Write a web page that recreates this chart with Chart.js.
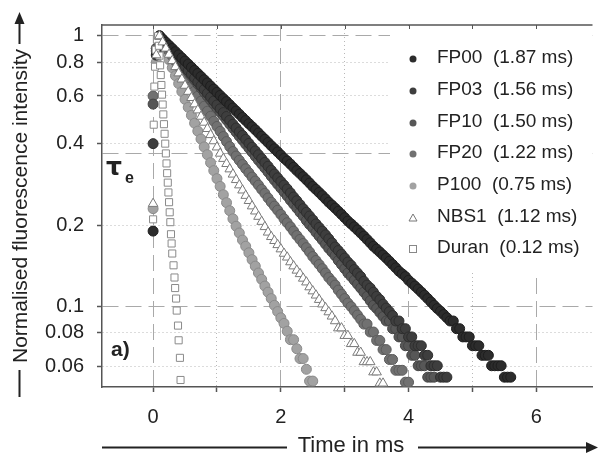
<!DOCTYPE html>
<html>
<head>
<meta charset="utf-8">
<script src="https://cdn.jsdelivr.net/npm/chart.js@4.4.1/dist/chart.umd.min.js"></script>
<style>
  html, body { margin: 0; padding: 0; background: #fff; }
  canvas { display: block; }
</style>
</head>
<body>
<canvas id="decayChart" width="599" height="466"></canvas>
<script>
// time axis (ms), shared by the circle / triangle series
const time = [0, 0.05, 0.1, 0.15, 0.2, 0.25, 0.3, 0.35, 0.4, 0.45,
  0.5, 0.55, 0.6, 0.65, 0.7, 0.75, 0.8, 0.85, 0.9, 0.95,
  1.0, 1.05, 1.1, 1.15, 1.2, 1.25, 1.3, 1.35, 1.4, 1.45,
  1.5, 1.55, 1.6, 1.65, 1.7, 1.75, 1.8, 1.85, 1.9, 1.95,
  2.0, 2.05, 2.1, 2.15, 2.2, 2.25, 2.3, 2.35, 2.4, 2.45,
  2.5, 2.55, 2.6, 2.65, 2.7, 2.75, 2.8, 2.85, 2.9, 2.95,
  3.0, 3.05, 3.1, 3.15, 3.2, 3.25, 3.3, 3.35, 3.4, 3.45,
  3.5, 3.55, 3.6, 3.65, 3.7, 3.75, 3.8, 3.85, 3.9, 3.95,
  4.0, 4.05, 4.1, 4.15, 4.2, 4.25, 4.3, 4.35, 4.4, 4.45,
  4.5, 4.55, 4.6, 4.65, 4.7, 4.75, 4.8, 4.85, 4.9, 4.95,
  5.0, 5.05, 5.1, 5.15, 5.2, 5.25, 5.3, 5.35, 5.4, 5.45,
  5.5, 5.55, 5.6];

const fp00 = [0.19, 0.85,
  1, 0.974, 0.948, 0.923, 0.899, 0.875, 0.852, 0.830, 0.808, 0.787,
  0.766, 0.746, 0.727, 0.708, 0.689, 0.671, 0.653, 0.636, 0.619, 0.603,
  0.587, 0.572, 0.557, 0.542, 0.528, 0.514, 0.500, 0.487, 0.474, 0.462,
  0.450, 0.438, 0.426, 0.415, 0.404, 0.393, 0.383, 0.373, 0.363, 0.353,
  0.345, 0.336, 0.327, 0.318, 0.310, 0.302, 0.294, 0.286, 0.278, 0.271,
  0.264, 0.257, 0.250, 0.243, 0.237, 0.231, 0.225, 0.219, 0.213, 0.207,
  0.202, 0.197, 0.192, 0.187, 0.182, 0.177, 0.172, 0.167, 0.163, 0.159,
  0.155, 0.151, 0.147, 0.143, 0.139, 0.135, 0.132, 0.129, 0.125, 0.122,
  0.119, 0.116, 0.113, 0.110, 0.107, 0.104, 0.101, 0.0983, 0.096, 0.0934,
  0.0909, 0.0884, 0.0884, 0.0828, 0.0828, 0.0772, 0.0772, 0.0772, 0.0716, 0.0716,
  0.0716, 0.066, 0.066, 0.066, 0.0604, 0.0604, 0.0604, 0.0604, 0.0548, 0.0548, 0.0548];
const fp03 = [0.40, 0.88,
  1, 0.968, 0.937, 0.907, 0.878, 0.850, 0.822, 0.796, 0.770, 0.745,
  0.722, 0.699, 0.676, 0.654, 0.634, 0.614, 0.594, 0.575, 0.556, 0.538,
  0.521, 0.504, 0.488, 0.472, 0.457, 0.442, 0.429, 0.415, 0.401, 0.388,
  0.376, 0.364, 0.352, 0.341, 0.330, 0.319, 0.309, 0.299, 0.290, 0.281,
  0.272, 0.263, 0.254, 0.246, 0.238, 0.230, 0.223, 0.216, 0.209, 0.202,
  0.196, 0.190, 0.184, 0.178, 0.172, 0.166, 0.161, 0.156, 0.151, 0.146,
  0.142, 0.137, 0.133, 0.129, 0.124, 0.120, 0.117, 0.113, 0.109, 0.106,
  0.102, 0.0987, 0.0957, 0.0926, 0.0884, 0.0884, 0.0828, 0.0828, 0.0772, 0.0772,
  0.0716, 0.0716, 0.0716, 0.066, 0.066, 0.0604, 0.0604, 0.0604, 0.0548, 0.0548, 0.0548];
const fp10 = [0.56, 0.9,
  1, 0.967, 0.934, 0.903, 0.872, 0.843, 0.815, 0.788, 0.761, 0.736,
  0.711, 0.687, 0.664, 0.642, 0.620, 0.599, 0.579, 0.560, 0.541, 0.523,
  0.506, 0.489, 0.472, 0.456, 0.441, 0.426, 0.412, 0.398, 0.385, 0.372,
  0.359, 0.347, 0.336, 0.325, 0.314, 0.303, 0.293, 0.283, 0.274, 0.265,
  0.256, 0.247, 0.239, 0.231, 0.223, 0.216, 0.208, 0.201, 0.195, 0.188,
  0.182, 0.176, 0.170, 0.164, 0.159, 0.154, 0.148, 0.143, 0.138, 0.133,
  0.129, 0.125, 0.121, 0.117, 0.113, 0.109, 0.105, 0.101, 0.0983, 0.095,
  0.0918, 0.0884, 0.0884, 0.0828, 0.0828, 0.0772, 0.0772, 0.0716, 0.0716, 0.066,
  0.066, 0.0604, 0.0604, 0.0604, 0.0548, 0.0548, 0.0548];
const fp20 = [0.60, 0.9,
  1, 0.958, 0.918, 0.879, 0.843, 0.807, 0.774, 0.741, 0.710, 0.680,
  0.652, 0.625, 0.599, 0.574, 0.550, 0.527, 0.505, 0.484, 0.463, 0.444,
  0.425, 0.407, 0.390, 0.374, 0.360, 0.347, 0.335, 0.323, 0.312, 0.301,
  0.291, 0.281, 0.271, 0.262, 0.252, 0.243, 0.235, 0.227, 0.219, 0.211,
  0.204, 0.197, 0.190, 0.183, 0.177, 0.171, 0.165, 0.159, 0.153, 0.148,
  0.143, 0.138, 0.133, 0.128, 0.124, 0.120, 0.115, 0.111, 0.107, 0.103,
  0.0999, 0.0964, 0.093, 0.0897, 0.0861, 0.0861, 0.0805, 0.0805, 0.0749, 0.0749,
  0.0693, 0.0693, 0.0637, 0.0637, 0.0581, 0.0581, 0.0581, 0.0525, 0.0525];
const p100 = [0.23, 0.8,
  1, 0.935, 0.874, 0.817, 0.763, 0.713, 0.667, 0.623, 0.583, 0.545,
  0.509, 0.476, 0.445, 0.416, 0.389, 0.364, 0.340, 0.318, 0.297, 0.278,
  0.259, 0.242, 0.226, 0.211, 0.198, 0.187, 0.176, 0.167, 0.158, 0.149,
  0.141, 0.133, 0.126, 0.119, 0.113, 0.107, 0.101, 0.0958, 0.0908, 0.0866,
  0.081, 0.0754, 0.0754, 0.0698, 0.0642, 0.0642, 0.0586, 0.053, 0.053];
const nbs1 = [0.24, 0.85,
  1, 0.949, 0.900, 0.854, 0.810, 0.769, 0.729, 0.692, 0.656, 0.623,
  0.591, 0.560, 0.532, 0.504, 0.479, 0.454, 0.431, 0.409, 0.388, 0.368,
  0.352, 0.337, 0.322, 0.308, 0.294, 0.281, 0.269, 0.257, 0.246, 0.235,
  0.225, 0.215, 0.206, 0.197, 0.188, 0.181, 0.175, 0.169, 0.163, 0.157,
  0.152, 0.146, 0.141, 0.136, 0.132, 0.127, 0.123, 0.118, 0.114, 0.110,
  0.106, 0.102, 0.0988, 0.0954, 0.092, 0.0884, 0.0832, 0.0832, 0.078, 0.078,
  0.0728, 0.0728, 0.0676, 0.0676, 0.0624, 0.0624, 0.0624, 0.0572, 0.0572, 0.052,
  0.052];

// Duran glass decays much faster, sampled finer
const duranTime = [0, 0.01, 0.02, 0.03, 0.04, 0.06,
  0.08, 0.09, 0.10, 0.11, 0.12, 0.13, 0.14, 0.15, 0.16, 0.17,
  0.18, 0.19, 0.20, 0.21, 0.22, 0.23, 0.24, 0.25, 0.26, 0.27,
  0.28, 0.29, 0.30, 0.32, 0.335, 0.345, 0.36, 0.37, 0.39, 0.40, 0.42, 0.43];
const duran = [0.21, 0.47, 0.65, 0.77, 0.89, 0.97,
  1, 0.92, 0.846, 0.779, 0.717, 0.659, 0.607, 0.558, 0.513, 0.472,
  0.435, 0.40, 0.368, 0.338, 0.311, 0.287, 0.264, 0.243, 0.223, 0.205,
  0.185, 0.171, 0.157, 0.142, 0.128, 0.117, 0.107, 0.0966, 0.085, 0.075, 0.0646, 0.0535];

const seriesNames = ['FP00', 'FP03', 'FP10', 'FP20', 'P100', 'NBS1', 'Duran'];
const lifetimes = ['1.87', '1.56', '1.50', '1.22', '0.75', '1.12', '0.12'];

const xTicks = [0, 1, 2, 3, 4, 5, 6];
const yTicks = [0.06, 0.08, 0.1, 0.2, 0.368, 0.4, 0.6, 0.8, 1];
const yTickLabels = ['0.06', '0.08', '0.1', '0.2', '', '0.4', '0.6', '0.8', '1'];

const FONT = "'Liberation Sans', Arial, sans-serif";

function pts(xs, ys) {
  return ys.map((v, i) => ({ x: xs[i], y: v }));
}

function circleSet(label, values, fill, border, order) {
  return {
    label: label,
    data: pts(time, values),
    pointStyle: 'circle',
    pointRadius: 5,
    pointBackgroundColor: fill,
    pointBorderColor: border,
    pointBorderWidth: 1,
    showLine: false,
    order: order
  };
}

const datasets = [
  circleSet('FP00', fp00, '#2c2c2c', '#1e1e1e', 2),
  circleSet('FP03', fp03, '#3e3e3e', '#2e2e2e', 3),
  circleSet('FP10', fp10, '#575757', '#444444', 4),
  circleSet('FP20', fp20, '#717171', '#5c5c5c', 5),
  circleSet('P100', p100, '#a2a2a2', '#8a8a8a', 6),
  {
    label: 'NBS1',
    data: pts(time, nbs1),
    pointStyle: 'triangle',
    pointRadius: 5.5,
    pointBackgroundColor: '#ffffff',
    pointBorderColor: '#7a7a7a',
    pointBorderWidth: 1,
    showLine: false,
    order: 0
  },
  {
    label: 'Duran',
    data: pts(duranTime, duran),
    pointStyle: 'rect',
    pointRadius: 5,
    pointBackgroundColor: '#ffffff',
    pointBorderColor: '#8a8a8a',
    pointBorderWidth: 1,
    showLine: false,
    order: 1
  }
];

const legendColors = ['#2c2c2c', '#3e3e3e', '#575757', '#717171', '#a2a2a2'];

// legend box, axis titles, labels inside the plot
const decor = {
  id: 'decor',
  beforeDatasetsDraw(chart) {
    const { ctx, chartArea } = chart;
    ctx.save();
    ctx.fillStyle = '#ffffff';
    ctx.fillRect(390, chartArea.top + 1, chartArea.right - 390, 270 - chartArea.top);
    ctx.restore();
  },
  afterDraw(chart) {
    const { ctx, chartArea } = chart;
    const xs = chart.scales.x;
    ctx.save();

    // top frame + small ticks
    ctx.strokeStyle = '#555';
    ctx.lineWidth = 1.5;
    ctx.beginPath();
    ctx.moveTo(chartArea.left, chartArea.top);
    ctx.lineTo(chartArea.right, chartArea.top);
    ctx.stroke();
    ctx.lineWidth = 1;
    xTicks.forEach(v => {
      const px = Math.round(xs.getPixelForValue(v)) + 0.5;
      ctx.beginPath();
      ctx.moveTo(px, chartArea.top);
      ctx.lineTo(px, chartArea.top + 4);
      ctx.stroke();
    });

    // legend
    const rows = [58, 90, 122, 153, 185, 217, 248];
    ctx.font = '19px ' + FONT;
    ctx.textBaseline = 'middle';
    ctx.textAlign = 'left';
    seriesNames.forEach((name, i) => {
      const y = rows[i];
      const mx = 413;
      if (i < 5) {
        ctx.fillStyle = legendColors[i];
        ctx.beginPath();
        ctx.arc(mx, y + 1, 3.5, 0, Math.PI * 2);
        ctx.fill();
      } else if (i === 5) {
        ctx.strokeStyle = '#777';
        ctx.lineWidth = 1;
        ctx.beginPath();
        ctx.moveTo(mx, y - 3);
        ctx.lineTo(mx + 4, y + 4);
        ctx.lineTo(mx - 4, y + 4);
        ctx.closePath();
        ctx.stroke();
      } else {
        ctx.strokeStyle = '#888';
        ctx.lineWidth = 1;
        ctx.strokeRect(mx - 3.5, y - 2.5, 7, 7);
      }
      ctx.fillStyle = '#222';
      ctx.fillText(name + '  (' + lifetimes[i] + ' ms)', 437, y);
    });

    // tau_e and panel label
    ctx.fillStyle = '#222';
    ctx.textBaseline = 'alphabetic';
    ctx.font = 'bold 25px "DejaVu Sans", sans-serif';
    ctx.fillText('τ', 106, 175);
    ctx.font = 'bold 16px ' + FONT;
    ctx.fillText('e', 125, 183);
    ctx.font = 'bold 21px ' + FONT;
    ctx.fillText('a)', 111, 356);

    // x title with arrow
    ctx.font = '22px ' + FONT;
    ctx.fillStyle = '#222';
    ctx.textAlign = 'center';
    ctx.fillText('Time in ms', 351, 452);
    ctx.strokeStyle = '#222';
    ctx.lineWidth = 2;
    ctx.beginPath();
    ctx.moveTo(102, 447.5);
    ctx.lineTo(287, 447.5);
    ctx.moveTo(418, 447.5);
    ctx.lineTo(588, 447.5);
    ctx.stroke();
    ctx.beginPath();
    ctx.moveTo(598, 447.5);
    ctx.lineTo(586, 442);
    ctx.lineTo(586, 453);
    ctx.closePath();
    ctx.fill();

    // y title with arrow
    ctx.save();
    ctx.translate(27, 206);
    ctx.rotate(-Math.PI / 2);
    ctx.font = '21px ' + FONT;
    ctx.textAlign = 'center';
    ctx.fillText('Normalised fluorescence intensity', 0, 0);
    ctx.restore();
    ctx.beginPath();
    ctx.moveTo(19.5, 370);
    ctx.lineTo(19.5, 397);
    ctx.moveTo(19.5, 44);
    ctx.lineTo(19.5, 22);
    ctx.stroke();
    ctx.beginPath();
    ctx.moveTo(19.5, 12);
    ctx.lineTo(14.5, 24);
    ctx.lineTo(24.5, 24);
    ctx.closePath();
    ctx.fill();

    ctx.restore();
  }
};

function isDashedY(v) {
  return v === 1 || v === 0.1 || v === 0.368;
}

new Chart(document.getElementById('decayChart'), {
  type: 'scatter',
  data: { datasets: datasets },
  options: {
    responsive: false,
    animation: false,
    events: [],
    layout: { padding: { top: 23, right: 0, left: 0, bottom: 0 } },
    plugins: {
      legend: { display: false },
      tooltip: { enabled: false }
    },
    scales: {
      x: {
        type: 'linear',
        min: -0.8,
        max: 6.88,
        afterBuildTicks: s => { s.ticks = xTicks.map(v => ({ value: v })); },
        afterFit: s => { s.height = 79; },
        ticks: {
          autoSkip: false,
          maxRotation: 0,
          padding: 13,
          color: '#222',
          font: { family: FONT, size: 20 },
          callback: v => (v % 2 === 0 ? String(v) : '')
        },
        grid: {
          color: ctx => (ctx.tick && ctx.tick.value % 2 === 0 ? '#a9a9a9' : '#b8b8b8'),
          lineWidth: 1,
          tickLength: 5,
          tickColor: '#555',
          tickWidth: 1.5
        },
        border: {
          color: '#555',
          width: 1.5,
          dash: ctx => (ctx.tick ? (ctx.tick.value % 2 === 0 ? [16, 7] : [1, 3]) : [])
        }
      },
      y: {
        type: 'logarithmic',
        min: 0.0504,
        max: 1.098,
        afterBuildTicks: s => { s.ticks = yTicks.map(v => ({ value: v })); },
        afterFit: s => { s.width = 102; },
        ticks: {
          autoSkip: false,
          padding: 13,
          color: '#222',
          font: { family: FONT, size: 20 },
          callback: v => {
            const i = yTicks.indexOf(v);
            return i >= 0 ? yTickLabels[i] : '';
          }
        },
        grid: {
          color: ctx => (ctx.tick && isDashedY(ctx.tick.value) ? '#a9a9a9' : '#b8b8b8'),
          lineWidth: 1,
          tickLength: 5,
          tickColor: ctx => (ctx.tick && ctx.tick.value === 0.368 ? 'rgba(0,0,0,0)' : '#555'),
          tickWidth: 1.5
        },
        border: {
          color: '#555',
          width: 1.5,
          dash: ctx => (ctx.tick ? (isDashedY(ctx.tick.value) ? [16, 7] : [1, 3]) : [])
        }
      }
    }
  },
  plugins: [decor]
});
</script>
</body>
</html>
